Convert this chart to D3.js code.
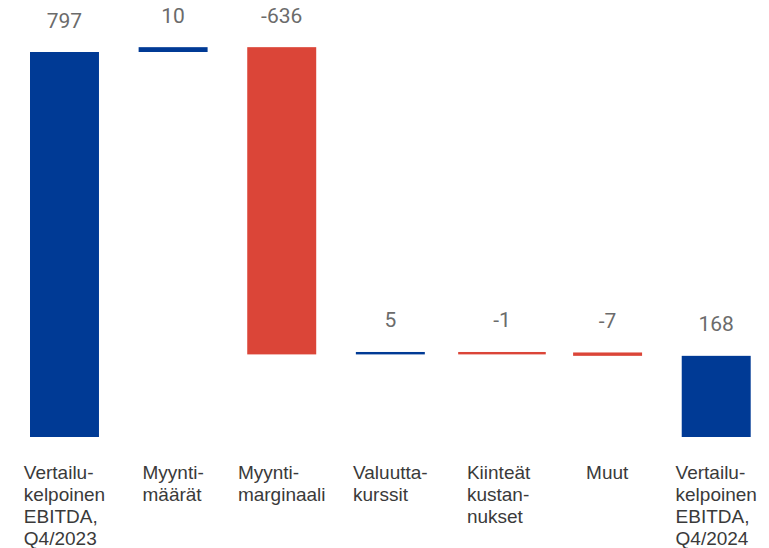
<html>
  <head>
    <title>Vertailukelpoinen EBITDA</title>
    <script type="text/javascript" src="https://cdn.jsdelivr.net/npm/d3@7"></script>
    <style type="text/css">

body {
  margin: 0;
  background: #fff;
}

.value {
  font: 21px Roboto, sans-serif;
  fill: #6b6b6b;
}

.cat {
  font: 19px "Liberation Sans", Arial, sans-serif;
  fill: #3a3a3a;
}

    </style>
  </head>
  <body>
    <script type="text/javascript">

var categories = [
  "Vertailu-\nkelpoinen\nEBITDA,\nQ4/2023",
  "Myynti-\nmäärät",
  "Myynti-\nmarginaali",
  "Valuutta-\nkurssit",
  "Kiinteät\nkustan-\nnukset",
  "Muut",
  "Vertailu-\nkelpoinen\nEBITDA,\nQ4/2024"
];
var values = [797, 10, -636, 5, -1, -7, 168];
var isTotal = [true, false, false, false, false, false, true];

var w = 769,
    h = 548,
    blue = "#003a95",
    red = "#db4538";

var svg = d3.select("body")
  .append("svg")
    .attr("width", w)
    .attr("height", h);

var x = d3.scaleBand()
    .domain(d3.range(categories.length))
    .range([30, 750.7])
    .paddingInner(0.365)
    .paddingOuter(0);

var y = d3.scaleLinear()
    .domain([0, 797])
    .range([437, 52]);

// running totals for the waterfall
var run = 0;
var bars = values.map(function(v, i) {
  var b;
  if (isTotal[i]) {
    b = {y0: 0, y1: v};
    run = v;
  } else {
    b = {y0: run, y1: run + v};
    run += v;
  }
  b.value = v;
  b.i = i;
  b.color = (isTotal[i] || v >= 0) ? blue : red;
  return b;
});

var g = svg.selectAll("g.bar")
    .data(bars)
  .enter().append("g")
    .attr("class", "bar");

function barWidth(d) {
  // the "Kiinteät kustannukset" mark is drawn wider in the original
  return d.i === 4 ? x.bandwidth() * 1.27 : x.bandwidth();
}

g.append("rect")
    .attr("x", function(d) { return x(d.i) + x.bandwidth() / 2 - barWidth(d) / 2 + (d.i === 4 ? 3 : 0); })
    .attr("width", barWidth)
    .attr("y", function(d) { return y(Math.max(d.y0, d.y1)); })
    .attr("height", function(d) { return Math.max(2.4, Math.abs(y(d.y0) - y(d.y1))); })
    .attr("fill", function(d) { return d.color; });

g.append("text")
    .attr("class", "value")
    .attr("x", function(d) { return x(d.i) + x.bandwidth() / 2 + (d.i === 4 ? 3 : 0); })
    .attr("y", function(d) { return y(Math.max(d.y0, d.y1)) - 24.5; })
    .attr("text-anchor", "middle")
    .text(function(d) { return d.value; });

// category labels: lines left-aligned, block centred under the bar
var cat = svg.selectAll("text.cat")
    .data(categories)
  .enter().append("text")
    .attr("class", "cat")
    .attr("y", 479);

cat.selectAll("tspan")
    .data(function(d) { return d.split("\n"); })
  .enter().append("tspan")
    .attr("x", 0)
    .attr("dy", function(d, i) { return i ? 22 : 0; })
    .text(function(d) { return d; });

cat.each(function(d, i) {
  var bw = this.getBBox().width,
      x0 = x(i) + x.bandwidth() / 2 - bw / 2;
  d3.select(this).attr("transform", "translate(" + x0 + ",0)");
});

    </script>
  </body>
</html>
